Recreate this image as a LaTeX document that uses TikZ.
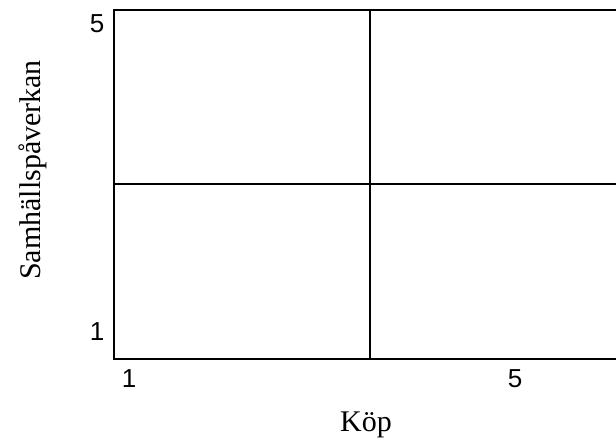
\documentclass[tikz,border=0pt]{standalone}
\usepackage{fontspec}
\setmainfont{Liberation Serif}
\newfontfamily\ticksans{Liberation Sans}
\usepackage{tikz}

\begin{document}
\begin{tikzpicture}[x=1pt,y=-1pt,
    frameline/.style={line width=2pt},
    ticklabel/.style={font=\ticksans\fontsize{26}{30}\selectfont, inner sep=0pt},
    axistitle/.style={font=\fontsize{30}{36}\selectfont, inner sep=0pt}]
  \useasboundingbox (0,0) rectangle (616,441);

  % Corners of the grid
  \coordinate (tl) at (114,10);
  \coordinate (bl) at (114,359);
  \coordinate (tr) at (617,10);
  \coordinate (br) at (617,359);
  \coordinate (midtop) at (370,10);
  \coordinate (midbot) at (370,359);
  \coordinate (midleft) at (114,184);
  \coordinate (midright) at (617,184);

  % Frame (open on the right)
  \draw[frameline] (tr) -- (tl) -- (bl) -- (br);

  % Quadrant lines
  \draw[frameline] (midtop) -- (midbot);
  \draw[frameline] (midleft) -- (midright);

  % Axis ticks
  \node[ticklabel] (y5) at (97,24) {5};
  \node[ticklabel] (y1) at (97,332) {1};
  \node[ticklabel] (x1) at (129,379) {1};
  \node[ticklabel] (x5) at (515,379) {5};

  % Axis titles
  \node[axistitle] (xtitle) at (366,425) {Köp};
  \node[axistitle, rotate=90] (ytitle) at (33,170) {Samhällspåverkan};
\end{tikzpicture}
\end{document}
